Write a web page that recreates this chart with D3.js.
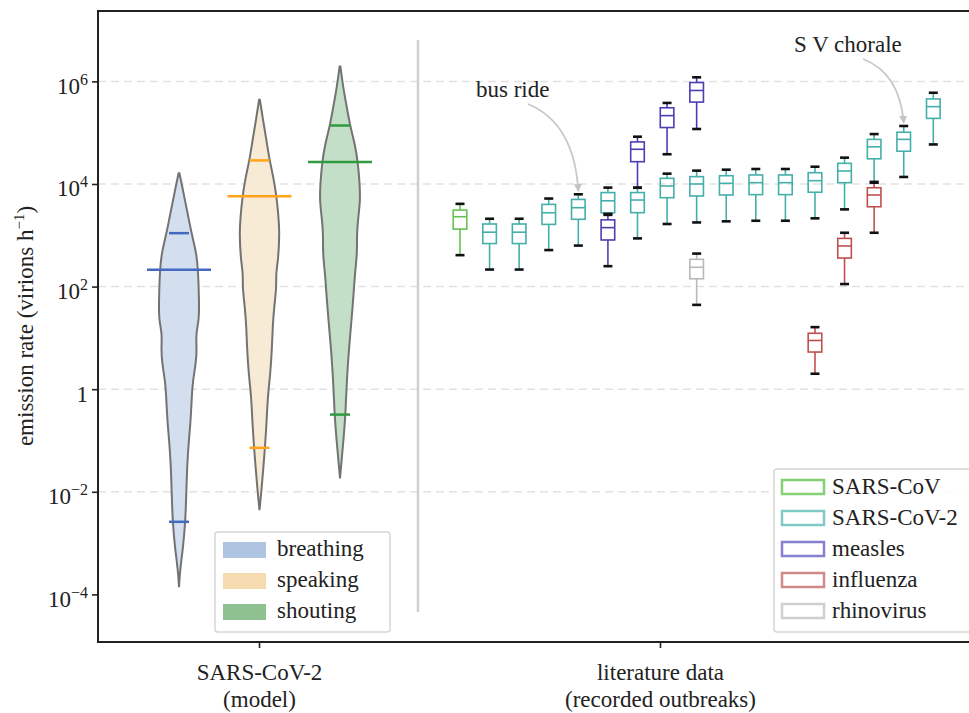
<!DOCTYPE html>
<html>
<head>
<meta charset="utf-8">
<script src="https://cdn.jsdelivr.net/npm/d3@7"></script>
<style>
  body { margin: 0; background: #fff; }
  #chart, #chart text { font-family: 'Liberation Serif', 'Times New Roman', serif; }
</style>
</head>
<body>
<svg id="chart" width="969" height="713"></svg>
<script>
// ---- data ----
// violins (model): log10 emission rate vs relative density
const violinNames = ["breathing", "speaking", "shouting"];
const breathingLog = [4.21, 3.97, 3.68, 3.39, 3.04, 2.65, 2.34, 1.73, 1.34, 1.09, 0.76, 0.50, 0.17, -0.16, -0.61, -1.00, -1.45, -2.11, -2.58, -3.08, -3.53, -3.86];
const breathingDens = [0.02, 0.15, 0.29, 0.44, 0.61, 0.85, 0.93, 0.98, 0.98, 0.82, 0.87, 0.82, 0.68, 0.62, 0.57, 0.48, 0.40, 0.35, 0.31, 0.2, 0.05, 0.0];
const speakingLog = [5.64, 5.30, 4.85, 4.46, 4.13, 3.76, 3.35, 3.04, 2.51, 2.26, 1.98, 1.59, 1.20, 0.81, 0.31, -0.16, -0.61, -1.13, -1.52, -1.91, -2.36];
const speakingDens = [0.02, 0.15, 0.34, 0.49, 0.68, 0.83, 0.93, 0.98, 0.91, 0.80, 0.83, 0.71, 0.64, 0.61, 0.53, 0.40, 0.35, 0.27, 0.19, 0.11, 0.0];
const shoutingLog = [6.29, 5.89, 5.50, 5.14, 4.79, 4.43, 4.01, 3.68, 3.35, 3.04, 2.65, 2.26, 1.73, 1.34, 0.81, 0.17, -0.47, -0.94, -1.33, -1.74];
const shoutingDens = [0.02, 0.15, 0.33, 0.49, 0.72, 0.87, 0.96, 0.99, 0.89, 0.82, 0.84, 0.73, 0.64, 0.56, 0.44, 0.33, 0.27, 0.18, 0.09, 0.0];
const violinMean = [214, 5750, 26900];
const violinUpper = [1100, 28800, 138000];
const violinLower = [0.0026, 0.072, 0.32];

// boxes (literature data): slot, group, low, q1, median, q3, high
const groups = ["SARS-CoV", "SARS-CoV-2", "measles", "influenza", "rhinovirus"];
const boxSlot  = [0, 1, 2, 3, 4, 5, 5, 6, 6, 7, 7, 8, 8, 8, 9, 10, 11, 12, 12, 13, 13, 14, 14, 15, 16];
const boxGroup = ["SARS-CoV", "SARS-CoV-2", "SARS-CoV-2", "SARS-CoV-2", "SARS-CoV-2", "SARS-CoV-2", "measles",
  "measles", "SARS-CoV-2", "measles", "SARS-CoV-2", "measles", "SARS-CoV-2", "rhinovirus", "SARS-CoV-2",
  "SARS-CoV-2", "SARS-CoV-2", "SARS-CoV-2", "influenza", "SARS-CoV-2", "influenza", "SARS-CoV-2", "influenza",
  "SARS-CoV-2", "SARS-CoV-2"];
const boxLow  = [410, 215, 215, 515, 630, 2600, 250, 8450, 870, 38000, 1660, 118000, 1780, 44, 1870, 1920, 1920, 2140, 2.0, 3200, 112, 11000, 1120, 13700, 59000];
const boxQ1   = [1320, 690, 690, 1630, 2050, 2750, 810, 27200, 2760, 126000, 5400, 395000, 5840, 142, 6100, 6200, 6200, 6900, 5.3, 10600, 360, 31000, 3600, 43500, 190000];
const boxMed  = [2300, 1150, 1150, 2750, 3450, 4700, 1410, 47500, 4870, 215000, 9140, 665000, 10000, 238, 10300, 10600, 10600, 11600, 8.9, 17900, 620, 53000, 6100, 74000, 322000];
const boxQ3   = [3100, 1660, 1660, 4000, 5000, 6800, 2000, 66000, 6800, 306000, 12900, 950000, 13900, 340, 14500, 15000, 15000, 16600, 12.3, 25300, 870, 74000, 8450, 102000, 455000];
const boxHigh = [4100, 2100, 2100, 5200, 6300, 8500, 2500, 83500, 8450, 380000, 15900, 1200000, 18200, 440, 19000, 19600, 19600, 21700, 16.2, 32600, 1120, 94000, 10600, 135000, 600000];

const annotLabels = ["bus ride", "S V chorale"];
const annotSlots = [4, 15];

const yTicks = [1e-4, 1e-2, 1, 1e2, 1e4, 1e6];
const gridTicks = [1e-2, 1, 1e2, 1e4, 1e6];
const categories = ["SARS-CoV-2|(model)", "literature data|(recorded outbreaks)"];

// ---- layout ----
const m = { left: 98, top: 11, right: 975, bottom: 642 };
const svg = d3.select("#chart");

const y = d3.scaleLog().domain([Math.pow(10, -4.928), Math.pow(10, 7.372)]).range([m.bottom, m.top]);
const xViolin = d3.scalePoint().domain(violinNames).range([179, 340]);
const xBox = d3.scalePoint().domain(d3.range(17)).range([460, 933.3]);
const xCat = d3.scalePoint().domain(categories).range([259, 660]);
const wScale = d3.scaleLinear().domain([0, 1]).range([0, 20.5]);

const violinFill = { breathing: "#d3dfee", speaking: "#f8ebd6", shouting: "#c4dfc7" };
const violinLine = { breathing: "#4469c0", speaking: "#ffa31a", shouting: "#2f9a3f" };
const violinPatch = { breathing: "#aec4e0", speaking: "#f6dab0", shouting: "#8fc08f" };
const groupColor = { "SARS-CoV": "#66c250", "SARS-CoV-2": "#45afaa", "measles": "#4b40b2", "influenza": "#bf4f4f", "rhinovirus": "#b9b9b9" };
const groupPatch = { "SARS-CoV": "#84d072", "SARS-CoV-2": "#80c9c6", "measles": "#8580d2", "influenza": "#d08a8a", "rhinovirus": "#cfcfcf" };

// grid
svg.append("g").selectAll("line").data(gridTicks).join("line")
  .attr("x1", m.left).attr("x2", m.right)
  .attr("y1", d => y(d)).attr("y2", d => y(d))
  .attr("stroke", "#e2e2e2").attr("stroke-width", 1.5).attr("stroke-dasharray", "8,5");

// separator
svg.append("line").attr("x1", 418).attr("x2", 418).attr("y1", 40).attr("y2", 612)
  .attr("stroke", "#cfcfcf").attr("stroke-width", 2.5);

// violins
const profiles = [
  d3.zip(breathingLog, breathingDens),
  d3.zip(speakingLog, speakingDens),
  d3.zip(shoutingLog, shoutingDens)
];
violinNames.forEach((name, i) => {
  const cx = xViolin(name);
  const area = d3.area()
    .y(d => y(Math.pow(10, d[0])))
    .x0(d => cx - wScale(d[1]))
    .x1(d => cx + wScale(d[1]))
    .curve(d3.curveBasis);
  svg.append("path").datum(profiles[i])
    .attr("d", area)
    .attr("fill", violinFill[name])
    .attr("stroke", "#737373").attr("stroke-width", 2);
  const lines = [[violinMean[i], 32], [violinUpper[i], 10], [violinLower[i], 10]];
  svg.append("g").selectAll("line").data(lines).join("line")
    .attr("x1", d => cx - d[1]).attr("x2", d => cx + d[1])
    .attr("y1", d => y(d[0])).attr("y2", d => y(d[0]))
    .attr("stroke", violinLine[name]).attr("stroke-width", 2.5);
});

// boxes
const boxes = boxSlot.map((s, i) => ({
  slot: s, group: boxGroup[i], low: boxLow[i], q1: boxQ1[i], med: boxMed[i], q3: boxQ3[i], high: boxHigh[i]
}));
const bw = 6.8, cw = 4.5;
const bg = svg.append("g").selectAll("g").data(boxes).join("g");
bg.append("line").attr("x1", d => xBox(d.slot)).attr("x2", d => xBox(d.slot))
  .attr("y1", d => y(d.high)).attr("y2", d => y(d.q3))
  .attr("stroke", d => groupColor[d.group]).attr("stroke-width", 1.6);
bg.append("line").attr("x1", d => xBox(d.slot)).attr("x2", d => xBox(d.slot))
  .attr("y1", d => y(d.q1)).attr("y2", d => y(d.low))
  .attr("stroke", d => groupColor[d.group]).attr("stroke-width", 1.6);
bg.append("rect").attr("x", d => xBox(d.slot) - bw).attr("width", 2 * bw)
  .attr("y", d => y(d.q3)).attr("height", d => y(d.q1) - y(d.q3))
  .attr("fill", "none").attr("stroke", d => groupColor[d.group]).attr("stroke-width", 1.6);
bg.append("line").attr("x1", d => xBox(d.slot) - bw).attr("x2", d => xBox(d.slot) + bw)
  .attr("y1", d => y(d.med)).attr("y2", d => y(d.med))
  .attr("stroke", d => groupColor[d.group]).attr("stroke-width", 1.6);
["low", "high"].forEach(k => {
  bg.append("line").attr("x1", d => xBox(d.slot) - cw).attr("x2", d => xBox(d.slot) + cw)
    .attr("y1", d => y(d[k])).attr("y2", d => y(d[k]))
    .attr("stroke", "#111").attr("stroke-width", 2.6);
});

// annotations
svg.append("defs").append("marker").attr("id", "arr")
  .attr("viewBox", "0 0 10 10").attr("refX", 9).attr("refY", 5)
  .attr("markerWidth", 8).attr("markerHeight", 8).attr("orient", "auto")
  .attr("markerUnits", "userSpaceOnUse")
  .append("path").attr("d", "M0,0 L10,5 L0,10 z").attr("fill", "#c4c4c4");
const annotText = [[476, 97], [794, 52]];
const annotStart = [[528, 104], [863, 59]];
annotLabels.forEach((lab, i) => {
  const b = boxes.find(d => d.slot === annotSlots[i] && d.group === "SARS-CoV-2");
  const ex = xBox(b.slot), ey = y(b.high) - 3;
  const [sx, sy] = annotStart[i];
  const cy = sy + (ey - sy) * 0.22;
  const p = d3.path();
  p.moveTo(sx, sy);
  p.quadraticCurveTo(ex - 4, cy, ex, ey);
  svg.append("path").attr("d", p.toString()).attr("fill", "none")
    .attr("stroke", "#c8c8c8").attr("stroke-width", 1.8).attr("marker-end", "url(#arr)");
  svg.append("text").attr("x", annotText[i][0]).attr("y", annotText[i][1])
    .attr("font-size", 23).attr("fill", "#222").text(lab);
});

// spines
svg.append("path").attr("d", `M${m.right},${m.top} H${m.left} V${m.bottom} H${m.right}`)
  .attr("fill", "none").attr("stroke", "#222").attr("stroke-width", 2);

// y axis
const yAxis = svg.append("g").attr("transform", `translate(${m.left},0)`)
  .call(d3.axisLeft(y).tickValues(yTicks).tickSize(6).tickFormat(""));
yAxis.attr("font-family", null);
yAxis.select(".domain").remove();
yAxis.selectAll(".tick line").attr("stroke", "#222").attr("stroke-width", 1.6);
yAxis.selectAll(".tick").each(function(d) {
  const e = Math.round(Math.log10(d));
  const t = d3.select(this).append("text").attr("x", -10).attr("y", 12)
    .attr("text-anchor", "end").attr("font-size", 23).attr("fill", "#222");
  if (e === 0) { t.text("1"); return; }
  t.append("tspan").text("10");
  t.append("tspan").attr("dy", -9).attr("font-size", 16).text(e < 0 ? "\u2212" + (-e) : e);
});

svg.append("text").attr("transform", "translate(33,326) rotate(-90)")
  .attr("text-anchor", "middle").attr("font-size", 23).attr("fill", "#222")
  .call(t => {
    t.append("tspan").text("emission rate (virions h");
    t.append("tspan").attr("dy", -9).attr("font-size", 15).text("\u22121");
    t.append("tspan").attr("dy", 9).text(")");
  });

// x axis
const xAxis = svg.append("g").attr("transform", `translate(0,${m.bottom})`)
  .call(d3.axisBottom(xCat).tickSize(6).tickFormat(""));
xAxis.attr("font-family", null);
xAxis.select(".domain").remove();
xAxis.selectAll(".tick line").attr("stroke", "#222").attr("stroke-width", 1.6);
xAxis.selectAll(".tick").each(function(d) {
  const parts = d.split("|");
  const t = d3.select(this).append("text").attr("text-anchor", "middle")
    .attr("font-size", 23).attr("fill", "#222");
  t.append("tspan").attr("x", 0).attr("y", 38).text(parts[0]);
  t.append("tspan").attr("x", 0).attr("y", 65).text(parts[1]);
});

// legend: violins
const lg1 = svg.append("g").attr("transform", "translate(215,532)");
lg1.append("rect").attr("width", 175).attr("height", 100).attr("rx", 3)
  .attr("fill", "#fff").attr("fill-opacity", 0.85).attr("stroke", "#d6d6d6").attr("stroke-width", 1.5);
violinNames.forEach((n, i) => {
  lg1.append("rect").attr("x", 8).attr("y", 10 + i * 31).attr("width", 43).attr("height", 16)
    .attr("fill", violinPatch[n]);
  lg1.append("text").attr("x", 62).attr("y", 24 + i * 31).attr("font-size", 23).attr("fill", "#222").text(n);
});

// legend: groups
const lg2 = svg.append("g").attr("transform", "translate(774,469)");
lg2.append("rect").attr("width", 220).attr("height", 163).attr("rx", 3)
  .attr("fill", "#fff").attr("fill-opacity", 0.85).attr("stroke", "#d6d6d6").attr("stroke-width", 1.5);
groups.forEach((g, i) => {
  lg2.append("rect").attr("x", 8).attr("y", 11 + i * 31).attr("width", 42).attr("height", 14)
    .attr("fill", "none").attr("stroke", groupPatch[g]).attr("stroke-width", 2.5);
  lg2.append("text").attr("x", 58).attr("y", 25 + i * 31).attr("font-size", 23).attr("fill", "#222").text(g);
});
</script>
</body>
</html>
